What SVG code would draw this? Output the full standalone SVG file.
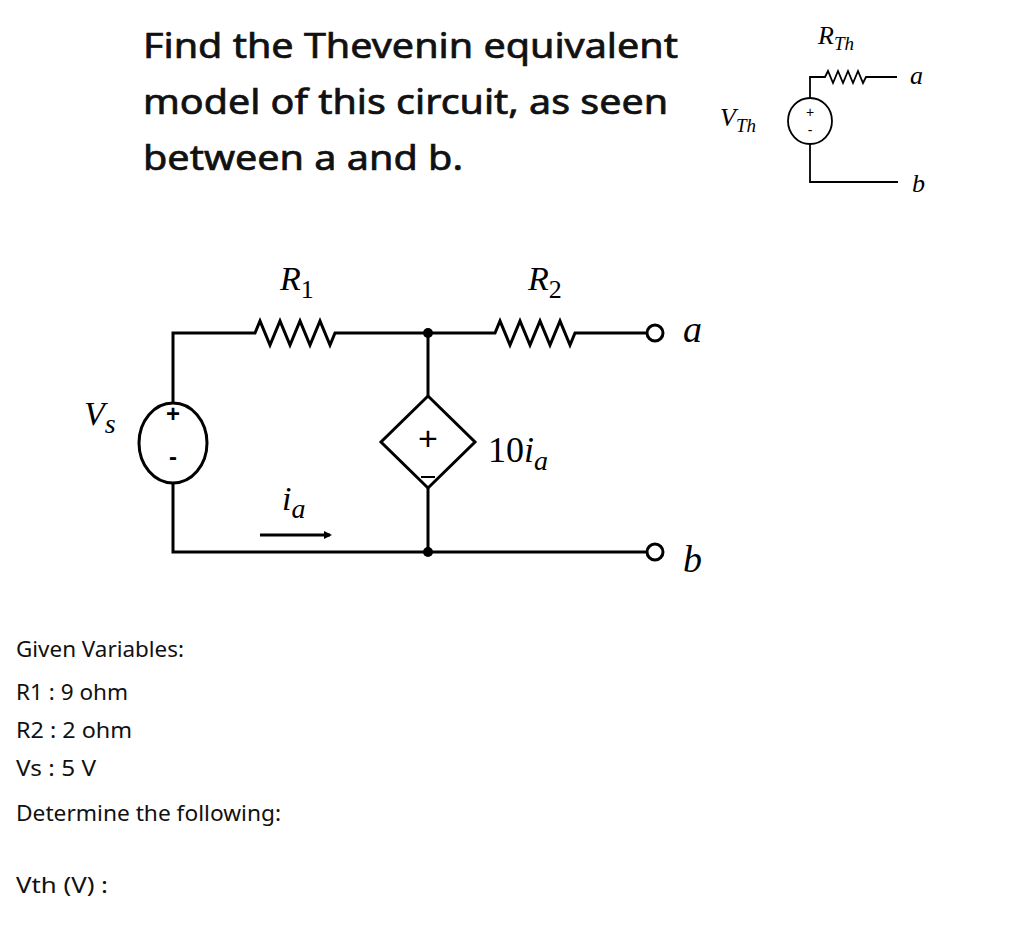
<svg xmlns="http://www.w3.org/2000/svg" width="1024" height="925" viewBox="0 0 1024 925">
<style>
.w{fill:none;stroke:#000;stroke-width:3;stroke-linejoin:miter}
.t{stroke-width:1.8}
.m{font-family:"Liberation Serif",serif;font-style:italic;fill:#000}
.s{font-family:"Noto Sans","Liberation Sans",sans-serif;fill:#111}
</style>
<defs><marker id="ar" markerWidth="8" markerHeight="8" refX="6" refY="4" orient="auto" markerUnits="userSpaceOnUse"><path d="M0,0 L8,4 L0,8 z"/></marker></defs>
<rect width="1024" height="925" fill="#fff"/>
<g id="title" class="s" font-size="34" stroke="#111" stroke-width="0.7">
<text x="143" y="58" textLength="535" lengthAdjust="spacingAndGlyphs">Find the Thevenin equivalent</text>
<text x="143" y="114" textLength="525" lengthAdjust="spacingAndGlyphs">model of this circuit, as seen</text>
<text x="143" y="170" textLength="320" lengthAdjust="spacingAndGlyphs">between a and b.</text>
</g>
<g id="connectors">
<path class="w" d="M173,403 V333 H255 l5,-12 l10,24 l10,-24 l10,24 l10,-24 l10,24 l10,-24 l10,24 l5,-12 H495 l5,-12 l10,24 l10,-24 l10,24 l10,-24 l10,24 l10,-24 l10,24 l5,-12 H646"/>
<path class="w" d="M173,483 V552 H646"/>
<path class="w" d="M428,333 V396 M428,488 V552"/>
<path class="w" d="M260,535 H330" marker-end="url(#ar)"/>
<path class="w t" d="M810,98 V77 H825 l3,-6 l5,12 l5,-12 l5,12 l5,-12 l5,12 l5,-12 l5,12 l3,-6 H897 M810,144 V182 H898"/>
</g>
<g id="Vs"><ellipse class="w" cx="173" cy="443" rx="34" ry="40"/><text x="173" y="422" font-family="Liberation Sans,sans-serif" font-weight="bold" font-size="24" text-anchor="middle">+</text><text x="173" y="465" font-family="Liberation Sans,sans-serif" font-weight="bold" font-size="24" text-anchor="middle">-</text></g>
<g id="dep"><path class="w" d="M428,396 L475,442 L428,488 L381,442 Z"/><text x="428" y="450" font-family="Liberation Sans,sans-serif" font-size="34" text-anchor="middle">+</text><path d="M421,477 H435" stroke="#000" stroke-width="2"/></g>
<g id="nodes"><circle cx="428" cy="333" r="5"/><circle cx="428" cy="552" r="5"/>
<circle cx="655" cy="333" r="8" fill="#fff" stroke="#000" stroke-width="3"/><circle cx="655" cy="552" r="8" fill="#fff" stroke="#000" stroke-width="3"/></g>
<g id="labels" class="m" font-size="34">
<text x="280" y="290">R<tspan font-style="normal" font-size="26" dy="8">1</tspan></text>
<text x="528" y="290">R<tspan font-style="normal" font-size="26" dy="8">2</tspan></text>
<text x="683" y="342" font-size="38">a</text>
<text x="683" y="572" font-size="38">b</text>
<text x="84" y="425">V<tspan font-size="28" dy="8">s</tspan></text>
<text x="488" y="462" font-style="normal" font-size="36">10<tspan font-style="italic">i</tspan><tspan font-style="italic" font-size="28" dy="8">a</tspan></text>
<text x="282" y="510">i<tspan font-size="28" dy="8">a</tspan></text>
</g>
<g id="thev">
<ellipse class="w t" cx="810" cy="121" rx="22" ry="23"/>
<text x="810" y="117" font-family="Liberation Sans,sans-serif" font-size="14" text-anchor="middle">+</text>
<text x="810" y="135" font-family="Liberation Sans,sans-serif" font-size="14" text-anchor="middle">-</text>
<text class="m" x="818" y="44" font-size="26">R<tspan font-size="19" dy="6">Th</tspan></text>
<text class="m" x="910" y="84" font-size="26">a</text>
<text class="m" x="720" y="126" font-size="26">V<tspan font-size="19" dy="6">Th</tspan></text>
<text class="m" x="912" y="192" font-size="26">b</text>
</g>
<g id="given" class="s" font-size="21">
<text x="16" y="657" textLength="168" lengthAdjust="spacingAndGlyphs">Given Variables:</text>
<text x="16" y="700" textLength="112" lengthAdjust="spacingAndGlyphs">R1 : 9 ohm</text>
<text x="16" y="738" textLength="116" lengthAdjust="spacingAndGlyphs">R2 : 2 ohm</text>
<text x="16" y="776" textLength="80" lengthAdjust="spacingAndGlyphs">Vs : 5 V</text>
<text x="16" y="821" textLength="265" lengthAdjust="spacingAndGlyphs">Determine the following:</text>
<text x="16" y="893" textLength="92" lengthAdjust="spacingAndGlyphs">Vth (V) :</text>
</g>
</svg>
